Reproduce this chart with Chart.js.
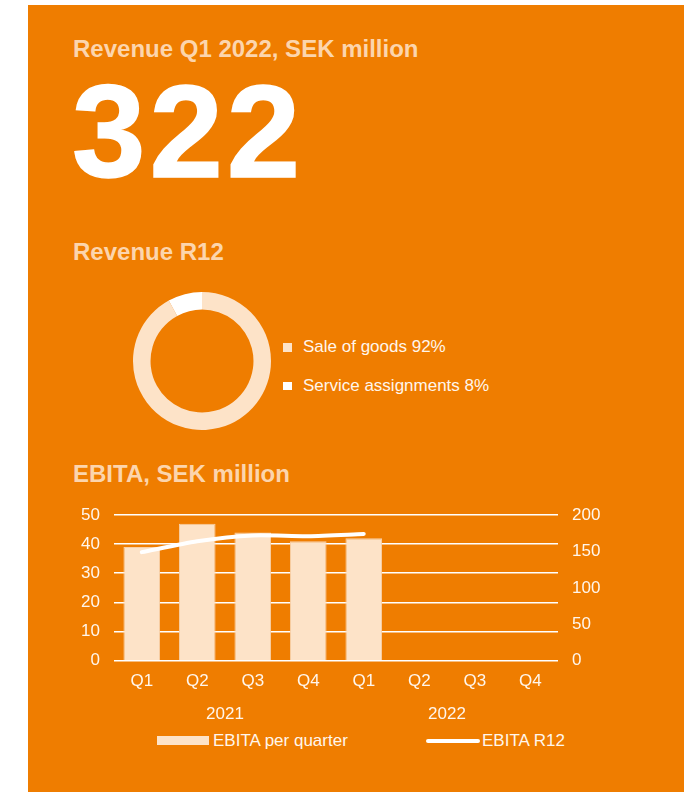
<!DOCTYPE html>
<html><head><meta charset="utf-8">
<script src="https://cdn.jsdelivr.net/npm/chart.js@4.4.1/dist/chart.umd.min.js"></script>
<style>
html,body{margin:0;padding:0;background:#fff;width:684px;height:792px;overflow:hidden;font-family:"Liberation Sans",Arial,Helvetica,sans-serif;}
#panel{position:absolute;left:28px;top:5px;width:656px;height:787px;background:#EF7D00;}
.t{position:absolute;white-space:nowrap;line-height:1;margin:0;}
.h{font-weight:bold;font-size:24px;color:#FCD5AD;left:73px;}
.big{font-weight:bold;font-size:132px;color:#fff;left:72px;top:66px;letter-spacing:4px;-webkit-text-stroke:1.5px #fff;}
.lg{font-size:17px;color:#FFF6EC;}
.sw{position:absolute;}
canvas{position:absolute;}
</style></head>
<body>
<div id="panel"></div>
<div class="t h" id="title1" style="top:37px"></div>
<div class="t big" id="bigValue"></div>
<div class="t h" id="title2" style="top:240px"></div>
<div class="t h" id="title3" style="top:462px"></div>
<canvas id="donut" width="160" height="160" style="left:121.5px;top:281px;width:160px;height:160px"></canvas>
<div id="donutLegend"></div>
<canvas id="ebita" width="684" height="250" style="left:0px;top:480px;width:684px;height:250px"></canvas>
<div id="ebitaLegend"></div>
<script>
// ---- data ----
const revenueTitle = 'Revenue Q1 2022, SEK million';
const revenueValue = 322;
const mixTitle = 'Revenue R12';
const mixLabels = ['Sale of goods', 'Service assignments'];
const mixShares = [92, 8];
const ebitaTitle = 'EBITA, SEK million';
const quarterLabels = ['Q1', 'Q2', 'Q3', 'Q4', 'Q1', 'Q2', 'Q3', 'Q4'];
const yearLabels = ['2021', '2022'];
const ebitaPerQuarter = [39, 47, 44, 41, 42, null, null, null];
const ebitaR12 = [149, 164, 172, 171, 174, null, null, null];
const leftTicks = [0, 10, 20, 30, 40, 50];
const rightTicks = [0, 50, 100, 150, 200];
const seriesNames = ['EBITA per quarter', 'EBITA R12'];

// ---- styles ----
const PEACH = '#FDE3C8';
const WHITE = '#FFFFFF';
const TICK = '#FFF6EC';
const FONT = '"Liberation Sans", Arial, Helvetica, sans-serif';

document.getElementById('title1').textContent = revenueTitle;
document.getElementById('bigValue').textContent = String(revenueValue);
document.getElementById('title2').textContent = mixTitle;
document.getElementById('title3').textContent = ebitaTitle;

const mixColors = [PEACH, WHITE];

new Chart(document.getElementById('donut'), {
  type: 'doughnut',
  data: { labels: mixLabels, datasets: [{ data: mixShares, backgroundColor: mixColors, borderWidth: 0, hoverOffset: 0 }] },
  options: {
    responsive: false, animation: false, radius: 69, cutout: '74.6%',
    layout: { padding: 0 },
    plugins: { legend: { display: false }, tooltip: { enabled: false } }
  }
});

// donut legend (HTML, from the arrays)
const dl = document.getElementById('donutLegend');
const dlTops = [338.3, 376.9];
mixLabels.forEach((lab, i) => {
  const sq = document.createElement('div');
  sq.className = 'sw';
  sq.style.cssText = `left:283px;top:${dlTops[i] + 4.7}px;width:8.5px;height:8.5px;background:${mixColors[i]}`;
  dl.appendChild(sq);
  const tx = document.createElement('div');
  tx.className = 't lg';
  tx.style.left = '303px';
  tx.style.top = dlTops[i] + 'px';
  tx.textContent = `${lab} ${mixShares[i]}%`;
  dl.appendChild(tx);
});

const tickFont = { family: FONT, size: 17 };
new Chart(document.getElementById('ebita'), {
  type: 'bar',
  data: {
    labels: quarterLabels,
    datasets: [
      { type: 'line', label: seriesNames[1], data: ebitaR12, yAxisID: 'y1', order: 0,
        borderColor: WHITE, borderWidth: 4, borderCapStyle: 'round', borderJoinStyle: 'round',
        pointRadius: 0, tension: 0.25, fill: false, spanGaps: false },
      { type: 'bar', label: seriesNames[0], data: ebitaPerQuarter, yAxisID: 'y', order: 1,
        backgroundColor: PEACH, borderColor: '#F8D0A8', borderWidth: 1,
        categoryPercentage: 1, barPercentage: 0.66 }
    ]
  },
  options: {
    responsive: false, animation: false,
    layout: { padding: { left: 80, right: 76, top: 35, bottom: 5.8 } },
    plugins: { legend: { display: false }, tooltip: { enabled: false } },
    scales: {
      x: { type: 'category', position: 'bottom', offset: true, weight: 0,
        grid: { display: false, drawTicks: false }, border: { display: false },
        ticks: { color: TICK, font: tickFont, padding: 10, maxRotation: 0, minRotation: 0, autoSkip: false },
        afterFit: (s) => { s.height = 30.4; } },
      x2: { type: 'category', labels: yearLabels, position: 'bottom', offset: true, weight: 1,
        grid: { display: false, drawTicks: false }, border: { display: false },
        ticks: { color: TICK, font: tickFont, padding: 12.7, maxRotation: 0, minRotation: 0, autoSkip: false },
        afterFit: (s) => { s.height = 33.1; } },
      y: { position: 'left', min: leftTicks[0], max: leftTicks[leftTicks.length - 1],
        ticks: { stepSize: leftTicks[1] - leftTicks[0], color: TICK, font: tickFont, padding: 14, autoSkip: false },
        grid: { color: WHITE, lineWidth: 1.6, drawTicks: false }, border: { display: false },
        afterFit: (s) => { s.width = 34; } },
      y1: { position: 'right', min: rightTicks[0], max: rightTicks[rightTicks.length - 1],
        ticks: { stepSize: rightTicks[1] - rightTicks[0], color: TICK, font: tickFont, padding: 14, autoSkip: false },
        grid: { display: false, drawTicks: false }, border: { display: false },
        afterFit: (s) => { s.width = 50; } }
    }
  }
});

// ebita legend (HTML, from the arrays)
const el = document.getElementById('ebitaLegend');
const b1 = document.createElement('div');
b1.className = 'sw';
b1.style.cssText = `left:157px;top:736px;width:52px;height:9px;background:${PEACH}`;
el.appendChild(b1);
const t1 = document.createElement('div');
t1.className = 't lg'; t1.style.left = '213px'; t1.style.top = '731.6px'; t1.textContent = seriesNames[0];
el.appendChild(t1);
const b2 = document.createElement('div');
b2.className = 'sw';
b2.style.cssText = `left:425.5px;top:739px;width:54px;height:4px;border-radius:2px;background:${WHITE}`;
el.appendChild(b2);
const t2 = document.createElement('div');
t2.className = 't lg'; t2.style.left = '482px'; t2.style.top = '731.6px'; t2.textContent = seriesNames[1];
el.appendChild(t2);
</script>
</body></html>
